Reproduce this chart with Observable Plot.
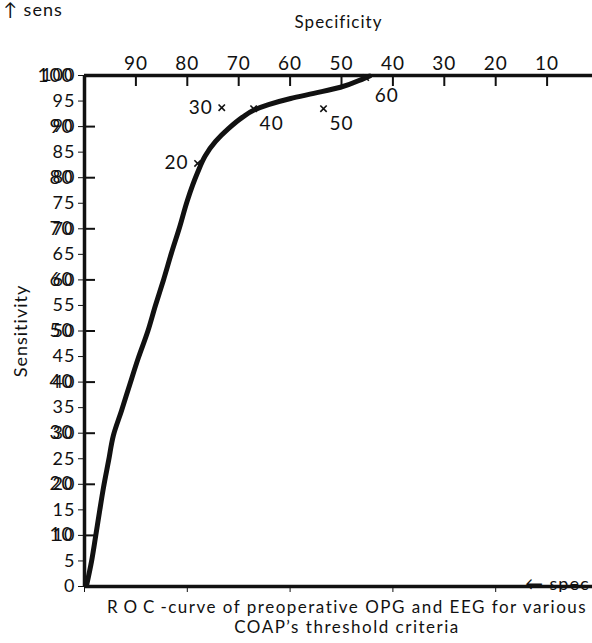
<!DOCTYPE html>
<html>
<head>
<meta charset="utf-8">
<script src="https://cdn.jsdelivr.net/npm/d3@7"></script>
<script src="https://cdn.jsdelivr.net/npm/@observablehq/plot@0.6"></script>
<style>
  body { margin: 0; background: #fff; }
  #chart { width: 592px; position: relative; }
  #chart svg.overlay { position: absolute; left: 0; top: 0; }
  .cap {
    font-family: Lato, "DejaVu Sans", sans-serif;
    font-weight: 400;
    font-size: 17px;
    letter-spacing: 1.5px;
    line-height: 20px;
    color: #111;
    text-align: center;
    width: 490px;
    padding-left: 102px;
    margin-top: 5px;
  }
</style>
</head>
<body>
<div id="chart"></div>
<script>
// ---- data ----
const specTicks = [90, 80, 70, 60, 50, 40, 30, 20, 10];
const sensTicks = [10, 20, 30, 40, 50, 60, 70, 80, 90, 100];

// ROC curve (specificity %, sensitivity %)
const curveSpec = [99.6, 98.6, 97.9, 97.1, 96.3, 95.3, 94.4, 92.8, 91.2, 89.5, 87.7, 86.2, 84.6, 83.1, 81.5, 80.0, 78.0, 76.5, 74.5, 72.0, 69.3, 67.1, 64.2, 59.9, 55.4, 50.2, 45.7, 44.5];
const curveSens = [0.2, 5.1, 9.4, 14.5, 19.4, 24.7, 29.5, 34.4, 39.5, 44.8, 49.9, 55.0, 60.1, 65.2, 70.3, 75.5, 81.0, 84.3, 87.1, 89.6, 91.8, 93.2, 94.3, 95.5, 96.5, 97.7, 99.4, 99.9];

// COAP threshold criteria markers
const markerLabels = ["20", "30", "40", "50", "60"];
const markerSpec = [78.0, 73.3, 67.1, 53.5, 45.3];
const markerSens = [82.8, 93.7, 93.5, 93.5, 99.6];

const xTitle = "Specificity";
const yTitle = "Sensitivity";

// ---- build ----
const curve = curveSpec.map((s, i) => ({spec: s, sens: curveSens[i]}));
const markers = markerLabels.map((l, i) => ({label: l, spec: markerSpec[i], sens: markerSens[i]}));
const leftLabeled = markers.filter(d => d.label === "20" || d.label === "30");
const rightLabeled = markers.filter(d => d.label === "40" || d.label === "50");
const lowLabeled = markers.filter(d => d.label === "60");
const xTickRows = specTicks.map(v => ({v}));
const yTickRows = sensTicks.filter(v => v < 100).map(v => ({v}));

const font = "Lato, 'DejaVu Sans', sans-serif";
const W = 592, H = 592, mL = 84, mT = 75, mB = 6;
const xEnd = 100 - (W - mL) / 5.14;
const tickLenY = 11 / ((H - mT - mB) / 100);   // ~11 px expressed in y units
const tickLenX = 11 / ((W - mL) / (100 - xEnd)); // ~11 px expressed in x units

const common = {
  width: W, height: H,
  marginLeft: mL, marginRight: 0, marginTop: mT, marginBottom: mB,
  x: {domain: [100, xEnd]},
  y: {domain: [0, 100]}
};

// base layer: frame, inward ticks, tick labels
const base = Plot.plot({
  ...common,
  style: {fontFamily: font, fontSize: "18px", fontWeight: 400, color: "#111", background: "#fff", letterSpacing: "1px"},
  marks: [
    Plot.ruleY([0, 100], {stroke: "#111", strokeWidth: 3.5}),
    Plot.ruleX([100], {y1: 0, y2: 100, stroke: "#111", strokeWidth: 3.5}),
    Plot.ruleX(xTickRows, {x: "v", y1: 100, y2: 100 - tickLenY, stroke: "#111", strokeWidth: 2}),
    Plot.ruleY(yTickRows, {y: "v", x1: 100, x2: 100 - tickLenX, stroke: "#111", strokeWidth: 2}),
    Plot.axisX(specTicks, {anchor: "top", tickSize: 0, tickPadding: 6, label: null, fontSize: 19}),
    Plot.axisY(sensTicks, {anchor: "left", tickSize: 0, tickPadding: 11, label: null, fontSize: 19})
  ]
});

// overlay layer: titles, ROC curve, markers and their labels (same scales)
const overlay = Plot.plot({
  ...common,
  className: "overlay",
  style: {fontFamily: font, fontSize: "18px", fontWeight: 400, color: "#111", background: "transparent", letterSpacing: "1px"},
  marks: [
    Plot.text([xTitle], {frameAnchor: "top", dy: -53, lineAnchor: "middle", textAnchor: "middle", fontSize: 17, text: d => d}),
    Plot.text([yTitle], {frameAnchor: "left", dx: -63, rotate: -90, textAnchor: "middle", lineAnchor: "middle", fontSize: 18, text: d => d}),
    Plot.line(curve, {x: "spec", y: "sens", stroke: "#111", strokeWidth: 5, curve: "monotone-y", strokeLinejoin: "round", strokeLinecap: "round"}),
    Plot.dot(markers, {x: "spec", y: "sens", symbol: "times", r: 3, stroke: "#111", strokeWidth: 1.6}),
    Plot.text(leftLabeled, {x: "spec", y: "sens", text: "label", textAnchor: "end", dx: -9, fontSize: 19}),
    Plot.text(rightLabeled, {x: "spec", y: "sens", text: "label", textAnchor: "start", dx: 6, dy: 15, fontSize: 19}),
    Plot.text(lowLabeled, {x: "spec", y: "sens", text: "label", textAnchor: "start", dx: 9, dy: 18, fontSize: 19})
  ]
});
overlay.classList.add("overlay");

const host = document.getElementById("chart");
host.appendChild(base);
host.appendChild(overlay);

const cap = document.createElement("div");
cap.className = "cap";
cap.innerHTML = '<span style="letter-spacing:6px">ROC</span>-curve of preoperative OPG and EEG for various<br>COAP\u2019s threshold criteria';
host.appendChild(cap);
</script>
</body>
</html>
